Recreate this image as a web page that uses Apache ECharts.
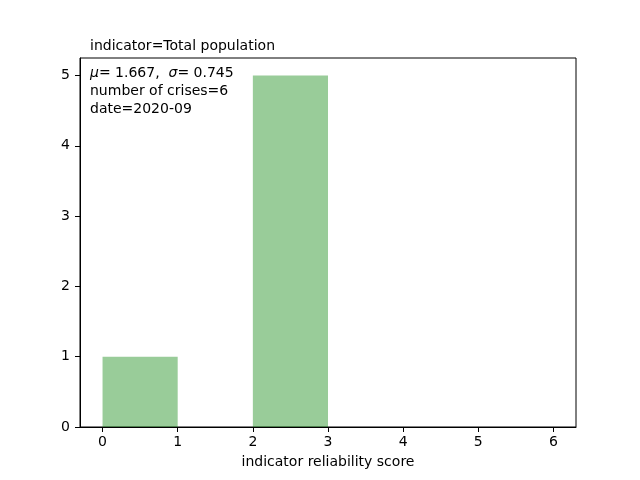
<!DOCTYPE html>
<html>
<head>
<meta charset="utf-8">
<script src="https://cdn.jsdelivr.net/npm/echarts@6/dist/echarts.min.js"></script>
<style>
  html, body { margin: 0; padding: 0; background: #fff; }
  #main { width: 640px; height: 480px; }
</style>
</head>
<body>
<div id="main"></div>
<script>
// histogram bins (edges) and counts
var binEdges = [0, 1, 2, 3, 4, 5, 6];
var counts = [1, 0, 5, 0, 0, 0];
var xTicks = [0, 1, 2, 3, 4, 5, 6];
var yTicks = [0, 1, 2, 3, 4, 5];
var indicator = 'Total population';
var mu = '1.667', sigma = '0.745', nCrises = 6, date = '2020-09';

var chart = echarts.init(document.getElementById('main'));

var barData = [];
for (var i = 0; i < counts.length; i++) {
	barData.push([binEdges[i], binEdges[i + 1], counts[i]]);
}

var font = 'DejaVu Sans';

var option = {
	backgroundColor: '#fff',
	animation: false,
	textStyle: { fontFamily: font },
	title: {
		text: 'indicator=' + indicator,
		left: 90,
		top: 39,
		padding: 0,
		textStyle: { fontFamily: font, fontSize: 14, fontWeight: 'normal', color: '#000' }
	},
	graphic: [{
		type: 'text',
		left: 90,
		top: 64,
		style: {
			text: '{i|μ}= ' + mu + ',  {i|σ}= ' + sigma + '\nnumber of crises=' + nCrises + '\ndate=' + date,
			font: '14px "DejaVu Sans"',
			fill: '#000',
			lineHeight: 18,
			rich: {
				i: { fontStyle: 'italic', fontFamily: font, fontSize: 14, lineHeight: 18 }
			}
		}
	}],
	grid: {
		left: 80, right: 64, top: 58, bottom: 53,
		show: true, borderColor: '#000', borderWidth: 1, backgroundColor: 'transparent'
	},
	xAxis: {
		type: 'value',
		min: -0.3, max: 6.3,
		name: 'indicator reliability score',
		nameLocation: 'middle',
		nameGap: 28,
		nameTextStyle: { fontFamily: font, fontSize: 14, color: '#000' },
		axisLine: { show: true, onZero: false, lineStyle: { color: '#000' } },
		axisTick: { show: true, length: 5, customValues: xTicks, lineStyle: { color: '#000' } },
		axisLabel: { customValues: xTicks, color: '#000', fontSize: 14, fontFamily: font, margin: 8 },
		splitLine: { show: false }
	},
	yAxis: {
		type: 'value',
		min: 0, max: 5.25,
		axisLine: { show: true, onZero: false, lineStyle: { color: '#000' } },
		axisTick: { show: true, length: 5, customValues: yTicks, lineStyle: { color: '#000' } },
		axisLabel: { customValues: yTicks, color: '#000', fontSize: 14, fontFamily: font, margin: 10 },
		splitLine: { show: false }
	},
	series: [{
		type: 'custom',
		data: barData,
		encode: { x: [0, 1], y: 2 },
		renderItem: function (params, api) {
			var p0 = api.coord([api.value(0), 0]);
			var p1 = api.coord([api.value(1), api.value(2)]);
			return {
				type: 'rect',
				shape: { x: p0[0], y: p1[1], width: p1[0] - p0[0], height: p0[1] - p1[1] },
				style: { fill: 'rgba(0,128,0,0.4)' }
			};
		}
	}]
};

chart.setOption(option);
</script>
</body>
</html>
